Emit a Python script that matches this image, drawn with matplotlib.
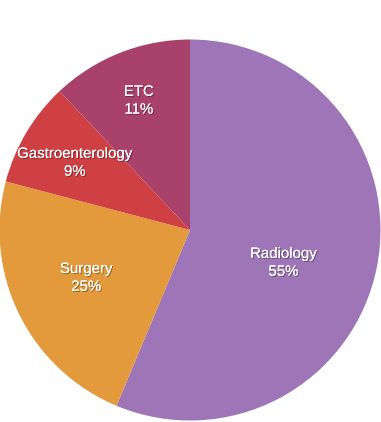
import numpy as np
import matplotlib.pyplot as plt
import matplotlib.patheffects as pe

plt.rcParams["font.family"] = ["Liberation Sans", "DejaVu Sans"]

labels = ["Radiology", "Surgery", "Gastroenterology", "ETC"]
# wedge sizes as drawn in the picture (they don't quite match the printed %)
shares = [56.3, 22.8, 8.9, 12.0]
pct_text = ["55%", "25%", "9%", "11%"]
colors = ["#9e76b8", "#e39a3c", "#cf4044", "#a8426a"]
# label placement: distance from centre (fraction of radius) and angle nudge (deg)
label_dist = [0.52, 0.60, 0.70, 0.73]
label_nudge = [-8, -1.5, 0.5, 0]

fig = plt.figure(figsize=(3.81, 4.22), dpi=100)
ax = fig.add_axes([-0.5 / 381, 1.5 / 422, 381 / 381, 381 / 422])

wedges, _ = ax.pie(shares, colors=colors, startangle=90, counterclock=False,
                   radius=1.0, wedgeprops=dict(linewidth=0))

shadow = [pe.withSimplePatchShadow(offset=(0.8, -0.8), shadow_rgbFace="black",
                                   alpha=0.35), pe.Normal()]
for w, name, pct, d, nudge in zip(wedges, labels, pct_text, label_dist, label_nudge):
    mid = np.deg2rad((w.theta1 + w.theta2) / 2 + nudge)
    ax.text(d * np.cos(mid), d * np.sin(mid), f"{name}\n{pct}",
            ha="center", va="center", color="white", fontsize=10.8,
            linespacing=1.35, path_effects=shadow)

ax.set_xlim(-1, 1)
ax.set_ylim(-1, 1)
ax.set_aspect("equal")
ax.axis("off")
fig.savefig("out.png", dpi=100)
